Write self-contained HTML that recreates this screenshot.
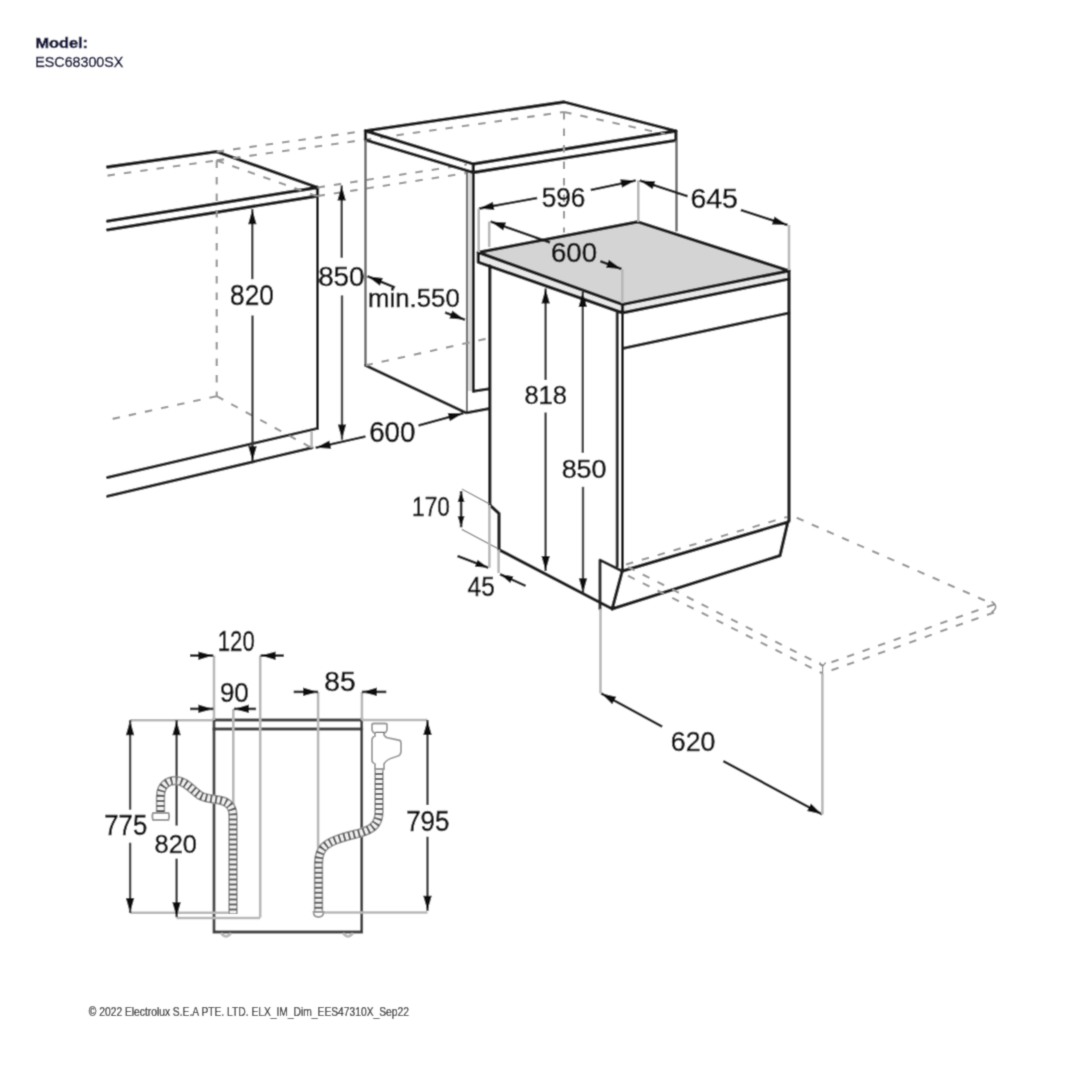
<!DOCTYPE html>
<html><head><meta charset="utf-8"><style>
html,body{margin:0;padding:0;background:#fff;}
svg{display:block;}
.k{stroke:#1a1a1a;stroke-width:3.3;fill:none;stroke-linejoin:round;stroke-linecap:round}
.k2{stroke:#222;stroke-width:3.0;fill:none;stroke-linejoin:round;stroke-linecap:round}
.k3{stroke:#3c3c3c;stroke-width:2.8;fill:none;stroke-linejoin:miter;stroke-linecap:square}
.g{stroke:#6a6a6a;stroke-width:2;fill:none}
.d{stroke:#1e1e1e;stroke-width:2.6;fill:none}
.dv{stroke:#383838;stroke-width:2.4;fill:none}
.g2{stroke:#707070;stroke-width:2.6;fill:none}
.e2{stroke:#8a8a8a;stroke-width:1.2;fill:none}
.e{stroke:#b8b8b8;stroke-width:2.6;fill:none}
.h{stroke:#959595;stroke-width:2.1;fill:none;stroke-dasharray:7.5 9}
.ar{fill:#111;stroke:none}
.t{font-family:"Liberation Sans",sans-serif;fill:#111;stroke:#111;stroke-width:0.55}
.gf{fill:#d4d4d4;stroke:none}
.lf{fill:#dadada;stroke:none}
.tn{font-family:"Liberation Sans",sans-serif;fill:#12123a;stroke:#12123a;stroke-width:0.5}
.tf{font-family:"Liberation Sans",sans-serif;fill:#1a1a1a;stroke:#1a1a1a;stroke-width:0.25}
.hs1{stroke:#9c9c9c;stroke-width:9.5;fill:none}
.hs1b{stroke:#f2f2f2;stroke-width:6;fill:none}
.hs2{stroke:#585858;stroke-width:8;fill:none;stroke-dasharray:2 3}
.cap{stroke:#9a9a9a;stroke-width:1.8;fill:#fff}
</style></head><body>
<svg width="1080" height="1080" viewBox="0 0 1080 1080">
<defs><filter id="bl" x="0" y="0" width="1" height="1"><feConvolveMatrix order="3" kernelMatrix="1 4 1 4 16 4 1 4 1" divisor="36" edgeMode="duplicate"/></filter></defs>
<g filter="url(#bl)"><rect x="0" y="0" width="1080" height="1080" fill="#fff"/>
<text transform="translate(35.44,48.36) scale(1.133,1)" font-size="14.42" class="tn" font-weight="bold">Model:</text>
<text transform="translate(35.36,66.85) scale(0.955,1)" font-size="14.93" class="tn">ESC68300SX</text>
<text transform="translate(88.85,1016.30) scale(0.801,1)" font-size="12.83" class="tf">© 2022 Electrolux S.E.A PTE. LTD. ELX_IM_Dim_EES47310X_Sep22</text>
<path d="M107.5,167 L216.7,151.7 L317.5,187.5" class="k"/>
<line x1="107.5" y1="221.2" x2="317.5" y2="187.5" class="k"/>
<line x1="107.5" y1="229.8" x2="317.5" y2="196" class="k"/>
<line x1="317.5" y1="187.5" x2="317.5" y2="196" class="k"/>
<line x1="317.5" y1="196" x2="317.5" y2="428.4" class="k2"/>
<line x1="107.5" y1="477.5" x2="317.5" y2="428.4" class="k2"/>
<line x1="107.5" y1="496.3" x2="312" y2="447.8" class="k2"/>
<line x1="311.6" y1="431.5" x2="311.6" y2="447.8" class="e"/>
<line x1="107.5" y1="175.6" x2="216.7" y2="160.4" class="h"/>
<line x1="216.7" y1="160.4" x2="317.5" y2="196.3" class="h"/>
<line x1="216.7" y1="160.4" x2="216.7" y2="396.2" class="h"/>
<line x1="216.7" y1="396.2" x2="107.5" y2="420" class="h"/>
<line x1="216.7" y1="396.2" x2="311" y2="447.5" class="h"/>
<line x1="216.7" y1="151.7" x2="365.5" y2="130.8" class="h"/>
<line x1="216.7" y1="160.4" x2="564" y2="112" class="h"/>
<line x1="317.5" y1="187.5" x2="466.9" y2="164.5" class="h"/>
<line x1="317.5" y1="196" x2="466.9" y2="173" class="h"/>
<line x1="252.3" y1="279.2" x2="252.3" y2="209.2" class="dv"/>
<path d="M252.3,209.2 L256.6,224.2 L248.1,224.2 Z" class="ar"/>
<line x1="252.5" y1="315.5" x2="252.5" y2="461.2" class="dv"/>
<path d="M252.5,461.2 L248.2,446.2 L256.8,446.2 Z" class="ar"/>
<text transform="translate(230.12,304.81) scale(0.898,1)" font-size="29.15" class="t">820</text>
<line x1="341.7" y1="257.8" x2="341.7" y2="185.5" class="dv"/>
<path d="M341.7,185.5 L345.9,200.5 L337.4,200.5 Z" class="ar"/>
<line x1="342" y1="295.4" x2="342" y2="439.6" class="dv"/>
<path d="M342.0,439.6 L337.8,424.6 L346.2,424.6 Z" class="ar"/>
<text transform="translate(318.15,286.03) scale(1.018,1)" font-size="27.32" class="t">850</text>
<rect x="466.9" y="172" width="6.5" height="219" class="lf"/>
<path d="M365.5,130.8 L564.1,102 L675.9,131 L473.3,164 L365.5,130.8" class="k"/>
<path d="M365.5,130.8 L365.5,140 L473.3,172.5 L675.9,140.4 L675.9,131" class="k"/>
<line x1="473.3" y1="164" x2="473.3" y2="172.5" class="k"/>
<line x1="365.5" y1="140" x2="365.5" y2="365.4" class="g2"/>
<line x1="365.5" y1="365.4" x2="465.6" y2="412.7" class="k2"/>
<line x1="676.5" y1="140.4" x2="676.5" y2="231.4" class="g2"/>
<line x1="466.9" y1="172" x2="466.9" y2="412.7" class="g"/>
<line x1="473.4" y1="172.5" x2="473.4" y2="391.3" class="k2"/>
<line x1="473.4" y1="391.3" x2="489.6" y2="388.7" class="k2"/>
<line x1="466.9" y1="412.7" x2="489.6" y2="408.5" class="k2"/>
<line x1="564.1" y1="112" x2="664.9" y2="134" class="h"/>
<line x1="564" y1="112" x2="564" y2="232.5" class="h"/>
<line x1="365.5" y1="365.4" x2="489.6" y2="338" class="h"/>
<text transform="translate(368.02,307.24) scale(1.008,1)" font-size="25.58" class="t">min.550</text>
<line x1="395" y1="287.5" x2="367.5" y2="276.2" class="d"/>
<path d="M367.5,276.2 L383.0,278.0 L379.8,285.8 Z" class="ar"/>
<line x1="445" y1="312.5" x2="465" y2="319.7" class="d"/>
<path d="M465.0,319.7 L449.4,318.6 L452.3,310.6 Z" class="ar"/>
<line x1="365.5" y1="436.6" x2="315.6" y2="447.8" class="d"/>
<path d="M315.6,447.8 L329.3,440.4 L331.2,448.7 Z" class="ar"/>
<text transform="translate(369.21,442.41) scale(0.965,1)" font-size="28.73" class="t">600</text>
<line x1="418.5" y1="425.4" x2="463.3" y2="413.2" class="d"/>
<path d="M463.3,413.2 L449.9,421.2 L447.7,413.0 Z" class="ar"/>
<path d="M478.3,252.4 L637.5,221.8 L789,270.8 L622.5,304.5 Z" class="gf"/>
<path d="M478.3,252.4 L622.5,304.5 L789,270.8 L789,279 L622.5,312.9 L478.3,262.3 Z" style="fill:#e9e9e9"/>
<path d="M478.3,252.4 L637.5,221.8 L789,270.8 L622.5,304.5 L478.3,252.4" class="k"/>
<path d="M478.3,252.4 L478.3,262.3 L622.5,312.9 L789,279 L789,270.8" class="k"/>
<line x1="622.5" y1="304.5" x2="622.5" y2="312.9" class="k"/>
<line x1="789" y1="279" x2="789" y2="521" class="k"/>
<line x1="489.8" y1="265.9" x2="489.8" y2="505" class="k"/>
<path d="M489.8,505 L499,513.5 L499,549.7 L612.2,608.9" class="k"/>
<line x1="617.2" y1="312.5" x2="617.2" y2="566" class="k2"/>
<line x1="622.5" y1="312.9" x2="622.5" y2="571.1" class="k2"/>
<line x1="622.5" y1="348.5" x2="789" y2="313" class="k2"/>
<line x1="622.2" y1="571.1" x2="787.8" y2="522.2" class="k"/>
<path d="M787.8,522.2 L780,555.6 L612.2,608.9 L622.2,571.1" class="k"/>
<path d="M600,608.9 L600,560 L622.2,571.1" class="k2"/>
<line x1="626" y1="564.5" x2="787" y2="517" class="h"/>
<line x1="796.7" y1="517.8" x2="994" y2="604.5" class="h"/>
<line x1="994" y1="604.5" x2="822.6" y2="665.5" class="h"/>
<line x1="994" y1="612.5" x2="822.6" y2="673.5" class="h"/>
<line x1="628" y1="567" x2="822.6" y2="665.5" class="h"/>
<line x1="628" y1="575.7" x2="822.6" y2="673.5" class="h"/>
<line x1="537.2" y1="198" x2="478.9" y2="208.6" class="d"/>
<path d="M478.9,208.6 L492.9,201.7 L494.4,210.1 Z" class="ar"/>
<line x1="590.7" y1="189.9" x2="635.8" y2="180.4" class="d"/>
<path d="M635.8,180.4 L622.0,187.7 L620.2,179.3 Z" class="ar"/>
<text transform="translate(541.75,206.63) scale(0.973,1)" font-size="26.90" class="t">596</text>
<line x1="478.7" y1="208.6" x2="478.7" y2="252" class="e"/>
<line x1="638.3" y1="180.3" x2="638.3" y2="221.8" class="e"/>
<line x1="687.6" y1="196.3" x2="639.7" y2="180.5" class="d"/>
<path d="M639.7,180.5 L655.3,181.2 L652.6,189.2 Z" class="ar"/>
<line x1="740.8" y1="210.1" x2="787.5" y2="225" class="d"/>
<path d="M787.5,225.0 L771.9,224.5 L774.5,216.4 Z" class="ar"/>
<text transform="translate(690.38,207.72) scale(1.000,1)" font-size="28.45" class="t">645</text>
<line x1="789" y1="225" x2="789" y2="270" class="e"/>
<line x1="550" y1="242.5" x2="490.5" y2="221.6" class="d"/>
<path d="M490.5,221.6 L506.1,222.6 L503.2,230.6 Z" class="ar"/>
<text transform="translate(551.02,262.03) scale(1.020,1)" font-size="27.04" class="t">600</text>
<line x1="600.3" y1="261.2" x2="621.5" y2="269" class="d"/>
<path d="M621.5,269.0 L606.0,267.8 L608.9,259.8 Z" class="ar"/>
<line x1="489.2" y1="221.6" x2="489.2" y2="247" class="e"/>
<line x1="622.3" y1="269" x2="622.3" y2="303" class="e"/>
<line x1="545.6" y1="380" x2="545.6" y2="288.5" class="dv"/>
<path d="M545.6,288.5 L549.9,303.5 L541.4,303.5 Z" class="ar"/>
<line x1="545.6" y1="412.5" x2="545.6" y2="571" class="dv"/>
<path d="M545.6,571.0 L541.4,556.0 L549.9,556.0 Z" class="ar"/>
<text transform="translate(524.46,404.25) scale(1.004,1)" font-size="25.35" class="t">818</text>
<line x1="582.8" y1="452.8" x2="582.8" y2="292" class="dv"/>
<path d="M582.8,292.0 L587.0,307.0 L578.5,307.0 Z" class="ar"/>
<line x1="583" y1="486.8" x2="583" y2="593.3" class="dv"/>
<path d="M583.0,593.3 L578.8,578.3 L587.2,578.3 Z" class="ar"/>
<text transform="translate(561.69,478.05) scale(1.054,1)" font-size="25.49" class="t">850</text>
<text transform="translate(412.10,516.43) scale(0.837,1)" font-size="27.04" class="t">170</text>
<line x1="461.1" y1="509" x2="461.1" y2="491.1" class="d"/>
<path d="M461.1,491.1 L464.6,502.1 L457.6,502.1 Z" class="ar"/>
<line x1="461.1" y1="509" x2="461.1" y2="527.3" class="d"/>
<path d="M461.1,527.3 L457.6,516.3 L464.6,516.3 Z" class="ar"/>
<line x1="461.8" y1="489" x2="489.4" y2="503.9" class="e2"/>
<line x1="461.8" y1="529.4" x2="498" y2="548.6" class="e2"/>
<text transform="translate(467.61,596.23) scale(0.894,1)" font-size="27.29" class="t">45</text>
<line x1="457.5" y1="556" x2="488.4" y2="567.8" class="d"/>
<path d="M488.4,567.8 L474.9,566.7 L477.6,559.7 Z" class="ar"/>
<line x1="525.6" y1="585.9" x2="500" y2="574.2" class="d"/>
<path d="M500.0,574.2 L513.4,576.2 L510.3,583.0 Z" class="ar"/>
<line x1="489.4" y1="505" x2="489.4" y2="567.8" class="e"/>
<line x1="498.6" y1="549.7" x2="498.6" y2="573.1" class="e"/>
<line x1="662.2" y1="726.7" x2="601.1" y2="693.3" class="d"/>
<path d="M601.1,693.3 L616.3,696.8 L612.2,704.2 Z" class="ar"/>
<line x1="723.3" y1="761.1" x2="822.2" y2="814.4" class="d"/>
<path d="M822.2,814.4 L807.0,811.0 L811.0,803.5 Z" class="ar"/>
<text transform="translate(670.86,750.82) scale(0.948,1)" font-size="28.17" class="t">620</text>
<line x1="822.4" y1="673.5" x2="822.4" y2="814.4" class="e"/>
<line x1="600.5" y1="608.9" x2="600.5" y2="693.3" class="e"/>
<line x1="214" y1="720" x2="361.7" y2="720" class="k3"/>
<line x1="214" y1="729" x2="361.7" y2="729" class="k3"/>
<path d="M214,720 L214,932 L361.7,932 L361.7,720" class="k3"/>
<line x1="233.3" y1="709" x2="233.3" y2="912" class="e"/>
<line x1="214" y1="655.6" x2="214" y2="720" class="e"/>
<line x1="260.2" y1="655.6" x2="260.2" y2="917.4" class="e"/>
<line x1="318.1" y1="692" x2="318.1" y2="850" class="e"/>
<line x1="361.9" y1="692" x2="361.9" y2="720" class="e"/>
<line x1="130" y1="720.2" x2="213.2" y2="720.2" class="e"/>
<line x1="361.7" y1="720" x2="427.5" y2="720" class="e"/>
<line x1="130" y1="912.8" x2="232" y2="912.8" class="e"/>
<line x1="176.5" y1="918" x2="260.2" y2="918" class="e"/>
<line x1="320" y1="912.5" x2="427.5" y2="912.5" class="e"/>
<path d="M221,933 Q226,940 231,933" class="e"/>
<path d="M343,933 Q348,940 353,933" class="e"/>
<text transform="translate(217.74,651.41) scale(0.765,1)" font-size="29.01" class="t">120</text>
<line x1="190" y1="655.6" x2="213.3" y2="655.6" class="d"/>
<path d="M213.3,655.6 L198.3,659.9 L198.3,651.4 Z" class="ar"/>
<line x1="283.9" y1="655.6" x2="260.6" y2="655.6" class="d"/>
<path d="M260.6,655.6 L275.6,651.4 L275.6,659.9 Z" class="ar"/>
<text transform="translate(219.93,701.93) scale(0.949,1)" font-size="27.32" class="t">90</text>
<line x1="190" y1="708.9" x2="213.3" y2="708.9" class="d"/>
<path d="M213.3,708.9 L198.3,713.1 L198.3,704.6 Z" class="ar"/>
<line x1="256.1" y1="708.9" x2="233.9" y2="708.9" class="d"/>
<path d="M233.9,708.9 L248.9,704.6 L248.9,713.1 Z" class="ar"/>
<text transform="translate(324.34,690.83) scale(1.039,1)" font-size="27.04" class="t">85</text>
<line x1="293.7" y1="691.9" x2="318.1" y2="691.9" class="d"/>
<path d="M318.1,691.9 L303.1,696.1 L303.1,687.6 Z" class="ar"/>
<line x1="386.3" y1="691.9" x2="361.9" y2="691.9" class="d"/>
<path d="M361.9,691.9 L376.9,687.6 L376.9,696.1 Z" class="ar"/>
<line x1="130.1" y1="809.7" x2="130.1" y2="720.2" class="dv"/>
<path d="M130.1,720.2 L134.3,735.2 L125.8,735.2 Z" class="ar"/>
<line x1="130.1" y1="842.7" x2="130.1" y2="913" class="dv"/>
<path d="M130.1,913.0 L125.8,898.0 L134.3,898.0 Z" class="ar"/>
<text transform="translate(104.31,834.91) scale(0.891,1)" font-size="28.86" class="t">775</text>
<line x1="176.6" y1="825.6" x2="176.6" y2="720.2" class="dv"/>
<path d="M176.6,720.2 L180.8,735.2 L172.3,735.2 Z" class="ar"/>
<line x1="176.6" y1="858.6" x2="176.6" y2="917.2" class="dv"/>
<path d="M176.6,917.2 L172.3,902.2 L180.8,902.2 Z" class="ar"/>
<text transform="translate(154.56,852.63) scale(0.953,1)" font-size="26.62" class="t">820</text>
<line x1="427.5" y1="805" x2="427.5" y2="720" class="dv"/>
<path d="M427.5,720.0 L431.8,735.0 L423.2,735.0 Z" class="ar"/>
<line x1="427.5" y1="836.7" x2="427.5" y2="910.8" class="dv"/>
<path d="M427.5,910.8 L423.2,895.8 L431.8,895.8 Z" class="ar"/>
<text transform="translate(406.20,831.41) scale(0.880,1)" font-size="29.44" class="t">795</text>
<path d="M160.5,812 L160.5,797 C160.5,785 168,780.5 176,780.5 C185,780.5 192,790 200,795.5 C207,799.5 215,798.5 223,801 C230,803.5 233,808 233,816 L233,914" class="hs1"/>
<path d="M160.5,812 L160.5,797 C160.5,785 168,780.5 176,780.5 C185,780.5 192,790 200,795.5 C207,799.5 215,798.5 223,801 C230,803.5 233,808 233,816 L233,914" class="hs1b"/>
<path d="M160.5,812 L160.5,797 C160.5,785 168,780.5 176,780.5 C185,780.5 192,790 200,795.5 C207,799.5 215,798.5 223,801 C230,803.5 233,808 233,816 L233,914" class="hs2"/>
<path d="M379,768 L379,812 C379,826 370,830 360,833 C345,837 330,840 323,848 C318.5,854 318.5,860 318.5,868 L318.5,913" class="hs1"/>
<path d="M379,768 L379,812 C379,826 370,830 360,833 C345,837 330,840 323,848 C318.5,854 318.5,860 318.5,868 L318.5,913" class="hs1b"/>
<path d="M379,768 L379,812 C379,826 370,830 360,833 C345,837 330,840 323,848 C318.5,854 318.5,860 318.5,868 L318.5,913" class="hs2"/>
<path d="M153,813 L168.5,813 Q170,816 168.5,820 L153,820 Q151.5,816 153,813 Z" class="cap"/>
<path d="M313.5,912 L323.5,912 Q323.5,917 318.5,917 Q313.5,917 313.5,912 Z" class="cap"/>
<path d="M372,725 Q372,723.5 374,723.5 L385,723.5 Q387,723.5 387,725 L387,730 Q386,733 384,733 L375,733 Q373,733 372,730 Z" class="cap"/>
<path d="M375.5,732.5 L384.5,732.5 M375.5,735 L384.5,735" style="stroke:#555;stroke-width:1.3;fill:none"/>
<path d="M375,733 L375,736 Q372,737 372,740 L372,760 Q372,763 375,764 L375,769 L384,769 L384,764 Q386,760 392,758 L398,756 Q401,755 401,751 L401,743 Q401,740 398,740 L388,738 Q385,737 384,735 L384,733" class="cap"/>
<path d="M819.5,662.5 L822.6,666.5 L825.7,662.5 M822.6,666.5 L822.6,673.5" style="stroke:#8a8a8a;stroke-width:1.3;fill:none"/>
<path d="M991.5,601.5 Q996.5,604.5 995.5,608 Q994.5,611 991.5,612" style="stroke:#8a8a8a;stroke-width:1.6;fill:none"/>
</g></svg></body></html>
